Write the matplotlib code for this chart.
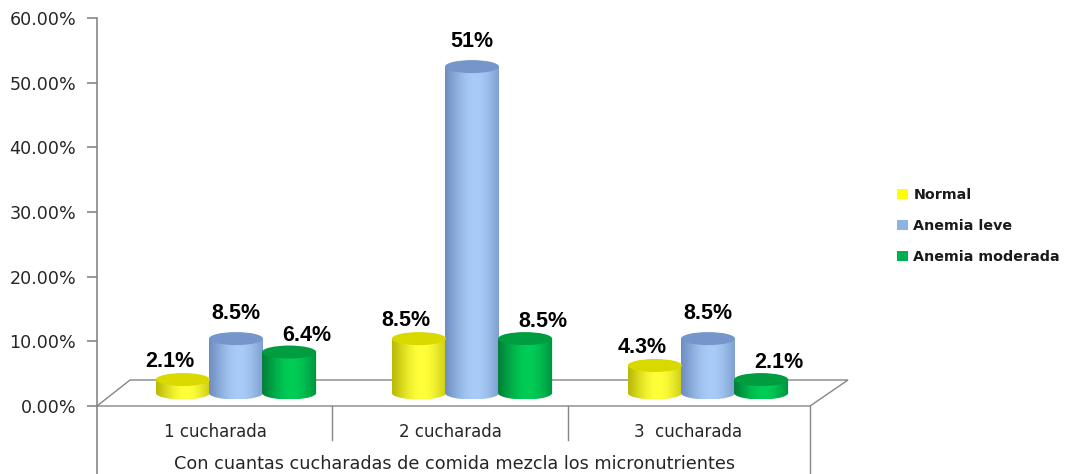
import numpy as np
import matplotlib
matplotlib.use("Agg")
import matplotlib.pyplot as plt
from matplotlib.patches import Ellipse, Polygon, Patch
from matplotlib.colors import to_rgb
from matplotlib.ticker import FuncFormatter

# ---------------- data ----------------
categories = ["1 cucharada", "2 cucharada", "3  cucharada"]
series_names = ["Normal", "Anemia leve", "Anemia moderada"]
normal = [2.1, 8.5, 4.3]
anemia_leve = [8.5, 51.0, 8.5]
anemia_moderada = [6.4, 8.5, 2.1]
value_labels = [["2.1%", "8.5%", "4.3%"],
                ["8.5%", "51%", "8.5%"],
                ["6.4%", "8.5%", "2.1%"]]
y_ticks = [0, 10, 20, 30, 40, 50, 60]
x_title = "Con cuantas cucharadas de comida mezcla los micronutrientes"

series = [normal, anemia_leve, anemia_moderada]

# styles: (edge dark, centre light, top, legend)
styles = [
    ("#b0b000", "#ffff3a", "#d9d900", "#ffff00"),
    ("#6686b8", "#a8cbf7", "#7595cb", "#8db3e2"),
    ("#007533", "#00cc55", "#009c40", "#00b050"),
]

W, H = 1066, 474
fig = plt.figure(figsize=(W / 100, H / 100), dpi=100)
fig.patch.set_facecolor("white")

# background decoration axes in pixel coordinates
bg = fig.add_axes([0, 0, 1, 1])
bg.set_xlim(0, W)
bg.set_ylim(H, 0)
bg.axis("off")
gray = "#868686"
bg.add_patch(Polygon([(97, 406), (130, 380), (848, 380), (810, 406)], closed=True,
                     fc="white", ec=gray, lw=1.0, zorder=1))
bg.plot([97, 97], [406, H], color=gray, lw=1.2, zorder=2)
for xv in (332, 568):
    bg.plot([xv, xv], [406, 440], color=gray, lw=1.0, zorder=2)
bg.plot([810, 810], [406, H], color=gray, lw=1.0, zorder=2)
cat_px = [215, 450, 688]
for xp, lab in zip(cat_px, categories):
    bg.text(xp, 432, lab, ha="center", va="center", fontsize=12,
            family="DejaVu Sans", color="#262626")
bg.text(455, 464, x_title, ha="center", va="center", fontsize=12.7,
        family="DejaVu Sans", color="#262626")

# y axis with ticks (0% at px 406, 60% at px 18)
ay = fig.add_axes([97 / W, 1 - 406 / H, 0.0001, (406 - 18) / H])
ay.set_ylim(0, 60)
ay.set_yticks(y_ticks)
ay.yaxis.set_major_formatter(FuncFormatter(lambda v, p: f"{v:.2f}%"))
ay.set_xticks([])
for s in ("top", "right", "bottom"):
    ay.spines[s].set_visible(False)
ay.spines["left"].set_color(gray)
ay.spines["left"].set_linewidth(1.2)
ay.tick_params(axis="y", direction="out", length=7, width=1.2, color=gray,
               labelsize=12.6, labelcolor="#262626", pad=8)
ay.patch.set_alpha(0)

# bar axes: x in category units, y in percent
base_px = 393.0
px_per_pct = 6.4
cat_px_spacing = 236.0
ax = fig.add_axes([0, 0, 1, 1])
ax.patch.set_alpha(0)
ax.axis("off")

bar_w = 0.229
offsets = [-0.225, 0.0, 0.225]
ell_h = 13.0 / px_per_pct
label_dx = [-13 / cat_px_spacing, 0.0, 18 / cat_px_spacing]
label_dy = [18 / px_per_pct, 25 / px_per_pct, 17 / px_per_pct]


def cylinder(axx, xc, w, h, dark, light, top, z):
    n = 80
    t = np.linspace(0, 1, n)
    shade = np.sin(np.pi * (0.06 + 0.8 * t)) ** 1.3
    shade = np.clip(shade, 0, 1)
    d = np.array(to_rgb(dark))
    l = np.array(to_rgb(light))
    cols = d + (l - d) * shade[:, None]
    img = cols[None, :, :]
    im = axx.imshow(img, extent=[xc - w / 2, xc + w / 2, -ell_h / 2, h],
                    aspect="auto", origin="lower", interpolation="bilinear",
                    zorder=z)
    th = np.linspace(np.pi, 2 * np.pi, 60)
    ex = xc + (w / 2) * np.cos(th)
    ey = (ell_h / 2) * np.sin(th)
    verts = list(zip(ex, ey)) + [(xc + w / 2, h), (xc - w / 2, h)]
    clip = Polygon(verts, closed=True, transform=axx.transData, fc="none", ec="none")
    axx.add_patch(clip)
    im.set_clip_path(clip)
    axx.add_patch(Ellipse((xc, h), w, ell_h, fc=top, ec="none", zorder=z + 0.5))


for gi in range(len(categories)):
    for si, vals in enumerate(series):
        xc = gi + offsets[si]
        v = vals[gi]
        dark, light, top, _ = styles[si]
        cylinder(ax, xc, bar_w, v, dark, light, top, 3 + si * 0.01 + gi * 0.1)
        ax.text(xc + label_dx[si], v + label_dy[si], value_labels[si][gi],
                ha="center", va="center", fontsize=15.5, fontweight="bold",
                family="Liberation Sans", color="black", zorder=10)

ax.set_xlim(-1, W / cat_px_spacing - 1)
ax.set_ylim(-(H - base_px) / px_per_pct, base_px / px_per_pct)

handles = [Patch(fc=s[3], ec="none") for s in styles]
leg = fig.legend(handles, series_names, loc="center left",
                 bbox_to_anchor=(884 / W, 1 - 226 / H), frameon=False,
                 prop={"family": "DejaVu Sans", "weight": "bold", "size": 10.3},
                 handlelength=0.75, handleheight=0.75, handletextpad=0.4,
                 labelspacing=1.2)
for t in leg.get_texts():
    t.set_color("#1a1a1a")

fig.savefig("out.png", dpi=100, facecolor="white")
